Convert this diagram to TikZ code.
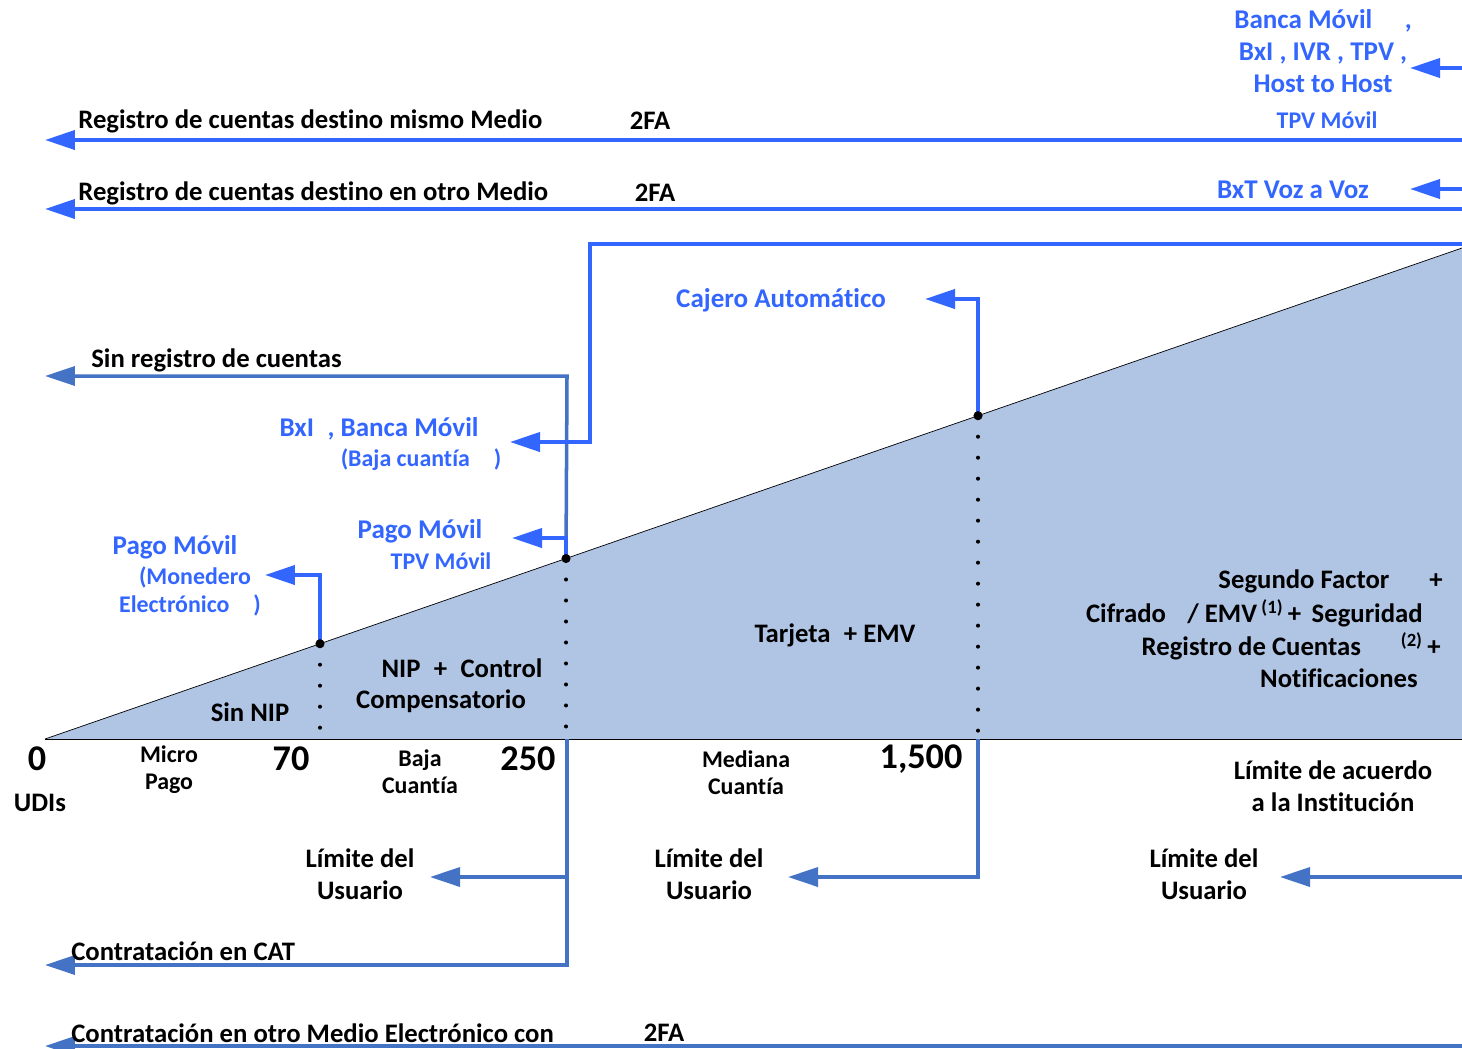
\documentclass[tikz,border=0pt]{standalone}
\usepackage{fontspec}
\setmainfont{Carlito}[Ligatures=NoCommon]
\usetikzlibrary{arrows.meta}
\definecolor{vivo}{HTML}{3366FF}
\definecolor{acero}{HTML}{4472C4}
\definecolor{relleno}{HTML}{B0C4E4}

\begin{document}
\begin{tikzpicture}[x=0.02cm, y=-0.02cm, inner sep=0pt,
    txt/.style = {font=\bfseries\fontsize{15.2}{18}\selectfont},
    azul/.style = {font=\bfseries\fontsize{15.4}{18.2}\selectfont, text=vivo},
    azulc/.style = {font=\bfseries\fontsize{13.6}{16}\selectfont, text=vivo},
    num/.style = {font=\bfseries\fontsize{20.6}{24}\selectfont},
    eje/.style = {font=\bfseries\fontsize{13.6}{15.5}\selectfont, align=center},
    lim/.style = {font=\bfseries\fontsize{15.2}{18}\selectfont, align=center},
    flecha/.style = {vivo, line width=2.3pt, -{Triangle[length=0.6cm, width=0.38cm]}},
    flechab/.style = {acero, line width=2pt, -{Triangle[length=0.6cm, width=0.38cm]}},
    puntos/.style = {line width=2.3pt, line cap=round, dash pattern=on 0pt off 0.42cm}]
    \useasboundingbox (0,0) rectangle (1462,1048);
    % triangulo de montos
    \coordinate (o) at (45,739);
    \coordinate (tope) at (1462,248);
    \coordinate (fin) at (1462,739);
    \coordinate (p70) at (320,643.7);
    \coordinate (p250) at (566,558.5);
    \coordinate (p1500) at (978,415.7);
    \fill[relleno] (o) -- (tope) -- (fin) -- cycle;
    \draw[thin] (o) -- (tope);
    \draw[thin] (o) -- (fin);
    \draw[puntos] (p70) -- (320,739);
    \draw[puntos] (p250) -- (566,739);
    \draw[puntos] (p1500) -- (978,739);
    % lineas acero
    \coordinate (c250) at (567,739);
    \coordinate (sr) at (567,376);
    \coordinate (cat) at (567,965);
    \coordinate (lu1) at (567,877);
    \coordinate (c1500) at (978,739);
    \coordinate (lu2) at (978,877);
    \coordinate (lu3) at (1462,877);
    \coordinate (om) at (1462,1046);
    \draw[flechab] (p250) -- (sr) -- (45,376);
    \draw[flechab] (c250) -- (cat) -- (45,965);
    \draw[flechab] (lu1) -- (430,877);
    \draw[flechab] (c1500) -- (lu2) -- (788,877);
    \draw[flechab] (lu3) -- (1280,877);
    \draw[flechab] (om) -- (45,1046);
    % lineas vivas
    \coordinate (r1) at (1462,140);
    \coordinate (r2) at (1462,209);
    \coordinate (m1) at (1462,68);
    \coordinate (m2) at (1462,189);
    \coordinate (bm) at (1462,244);
    \draw[flecha] (r1) -- (45,140);
    \draw[flecha] (r2) -- (45,209);
    \draw[flecha] (m1) -- (1410,68);
    \draw[flecha] (m2) -- (1410,189);
    \draw[flecha] (bm) -- (590,244) -- (590,442) -- (510,442);
    \draw[flecha] (p250) -- (566,538) -- (512,538);
    \draw[flecha] (p70) -- (320,575) -- (265,575);
    \draw[flecha] (p1500) -- (978,299) -- (925,299);
    \foreach \p in {p70,p250,p1500} \fill (\p) circle (2.6pt);
    % textos negros
    \node[txt, anchor=west] (mismo) at (78,121) {Registro de cuentas destino mismo Medio};
    \node[txt] (fa1) at (650,121) {2FA};
    \node[txt, anchor=west] (otro) at (78,193) {Registro de cuentas destino en otro Medio};
    \node[txt] (fa2) at (655,193) {2FA};
    \node[txt, anchor=west] (sinreg) at (91,360) {Sin registro de cuentas};
    \node[txt] (sinnip) at (250,712) {Sin NIP};
    \node[txt] (nip) at (462,668) {NIP\enspace+\enspace Control};
    \node[txt] (comp) at (441,701) {Compensatorio};
    \node[txt] (tarj) at (835,635) {Tarjeta\enspace + EMV};
    \node[txt, anchor=east] (sf) at (1443,581) {Segundo Factor\hspace{1.5em}+};
    \node[txt, anchor=east] (cif) at (1423,613) {Cifrado\hspace{0.8em}/ EMV\,\textsuperscript{(1)}\,+\, Seguridad};
    \node[txt, anchor=east] (rc) at (1441,646) {Registro de Cuentas\hspace{1.5em}\textsuperscript{(2)}\,+};
    \node[txt, anchor=east] (not) at (1418,678) {Notificaciones};
    \node[txt, anchor=west] (ccat) at (71,951) {Contratación en CAT};
    \node[txt, anchor=west] (cotro) at (71,1033) {Contratación en otro Medio Electrónico con};
    \node[txt] (fa3) at (664,1033) {2FA};
    % textos azules
    \node[azul, align=center] (canales) at (1323,51) {Banca Móvil\hspace{1.2em},\\BxI , IVR , TPV ,\\Host to Host};
    \node[azulc] (tpv1) at (1327,120) {TPV Móvil};
    \node[azul] (bxt) at (1293,190) {BxT Voz a Voz};
    \node[azul] (cajero) at (781,300) {Cajero Automático};
    \node[azul] (bxi) at (379,429) {BxI\enspace, Banca Móvil};
    \node[azulc] (baja) at (421,460) {(Baja cuantía\hspace{1em})};
    \node[azul] (pm1) at (420,531) {Pago Móvil};
    \node[azulc] (tpv2) at (441,561) {TPV Móvil};
    \node[azul] (pm2) at (175,547) {Pago Móvil};
    \node[azulc] (mon) at (195,577) {(Monedero};
    \node[azulc] (elec) at (190,605) {Electrónico\hspace{1em})};
    % eje de montos
    \node[num] (n0) at (37,759) {0};
    \node[txt] (udis) at (40,803) {UDIs};
    \node[eje] (micro) at (169,770) {Micro\\Pago};
    \node[num] (n70) at (291,759) {70};
    \node[eje] (bajac) at (420,772) {Baja\\Cuantía};
    \node[num] (n250) at (528,759) {250};
    \node[eje] (med) at (746,773) {Mediana\\Cuantía};
    \node[num] (n1500) at (921,759) {1,500};
    \node[lim] (inst) at (1333,786) {Límite de acuerdo\\a la Institución};
    \node[lim] (u1) at (360,874) {Límite del\\Usuario};
    \node[lim] (u2) at (709,874) {Límite del\\Usuario};
    \node[lim] (u3) at (1204,874) {Límite del\\Usuario};
\end{tikzpicture}
\end{document}
